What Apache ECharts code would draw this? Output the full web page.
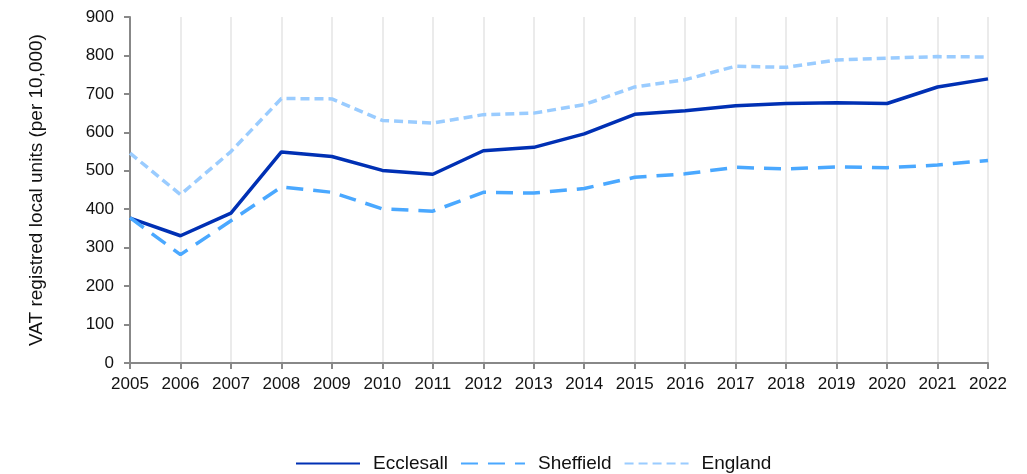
<!DOCTYPE html>
<html><head><meta charset="utf-8">
<script src="https://cdn.jsdelivr.net/npm/echarts@6/dist/echarts.min.js"></script>
<style>html,body{margin:0;padding:0;background:#fff}#c{width:1027px;height:474px}</style>
</head><body><div id="c"></div>
<script>
const years = ['2005','2006','2007','2008','2009','2010','2011','2012','2013','2014','2015','2016','2017','2018','2019','2020','2021','2022'];
const ecclesall = [377,331,390,549,537,501,491,552,561,596,647,656,669,675,677,675,718,739];
const sheffield = [378,282,370,458,444,401,395,444,442,454,483,492,509,505,510,508,515,527];
const england = [546,438,550,688,687,631,624,646,650,672,718,737,772,769,788,793,797,796];
const yTicks = {min:0, max:900, interval:100};

const chart = echarts.init(document.getElementById('c'));
const font = 'Liberation Sans, Arial, sans-serif';
chart.setOption({
  animation:false,
  grid:{left:130, right:39, top:17, bottom:111},
  legend:{
    top:449, left:290, itemWidth:64, itemHeight:20, itemGap:12,
    itemStyle:{opacity:0},
    textStyle:{fontFamily:font, fontSize:19, color:'#111', padding:[0,0,0,8]},
    data:['Ecclesall','Sheffield','England']
  },
  xAxis:{
    type:'category', data:years, boundaryGap:false,
    axisLine:{lineStyle:{color:'#888', width:2}},
    axisTick:{show:true, length:6, lineStyle:{color:'#888', width:2}},
    axisLabel:{color:'#111', fontFamily:font, fontSize:17, margin:13},
    splitLine:{show:true, lineStyle:{color:'#e4e4e4', width:1.5}}
  },
  yAxis:{
    type:'value', min:yTicks.min, max:yTicks.max, interval:yTicks.interval,
    name:'VAT registred local units (per 10,000)', nameLocation:'middle', nameGap:84,
    nameTextStyle:{color:'#111', fontFamily:font, fontSize:19},
    axisLine:{show:true, lineStyle:{color:'#888', width:2}},
    axisTick:{show:true, length:6, lineStyle:{color:'#888', width:2}},
    axisLabel:{color:'#111', fontFamily:font, fontSize:17, margin:16},
    splitLine:{show:false}
  },
  series:[
    {name:'Ecclesall', type:'line', data:ecclesall, symbol:'none', color:'#0030b4',
     lineStyle:{width:3.5, color:'#0030b4'}},
    {name:'Sheffield', type:'line', data:sheffield, symbol:'none', color:'#4aa8ff',
     lineStyle:{width:3.5, color:'#4aa8ff', type:[17,10]}},
    {name:'England', type:'line', data:england, symbol:'none', color:'#9accff',
     lineStyle:{width:3.5, color:'#9accff', type:[9,5]}}
  ]
});
</script></body></html>
